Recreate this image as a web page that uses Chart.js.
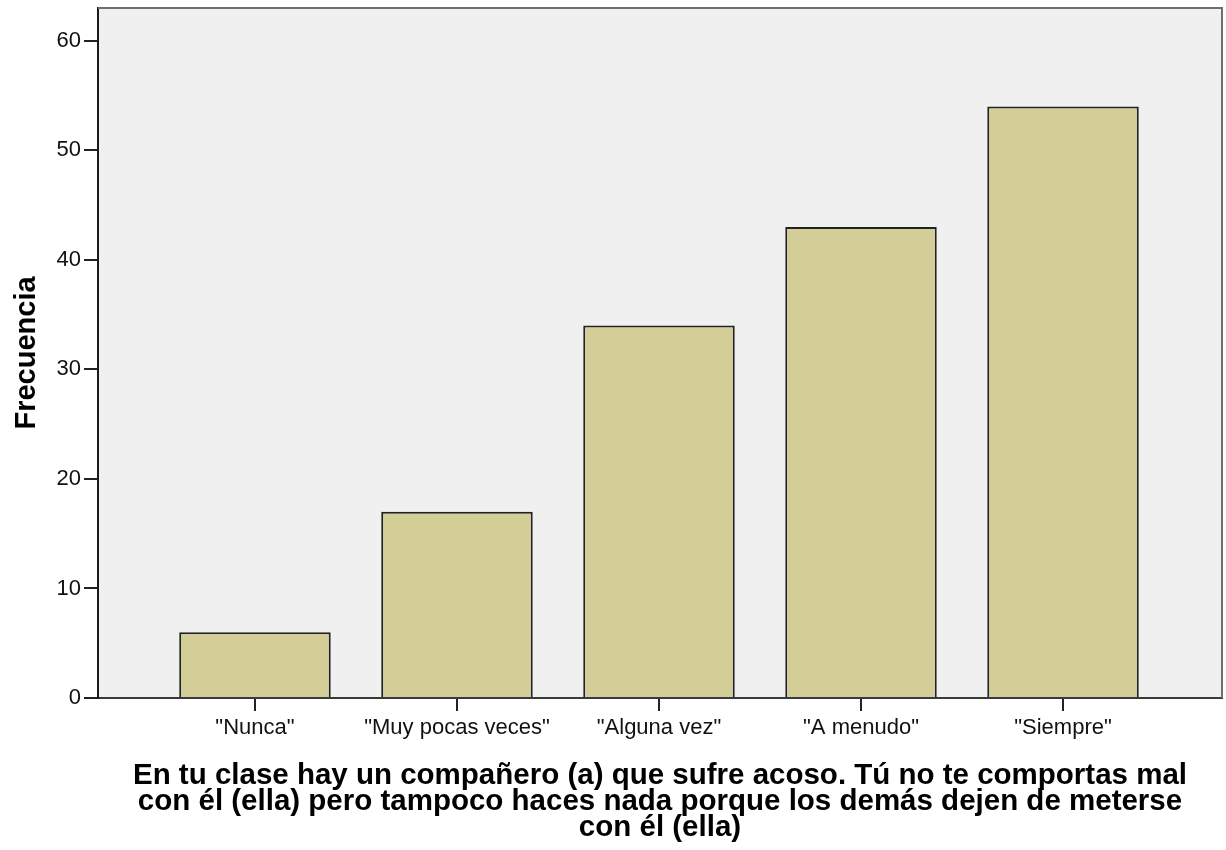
<!DOCTYPE html>
<html>
<head>
<meta charset="utf-8">
<script src="https://cdn.jsdelivr.net/npm/chart.js@4"></script>
<style>
  html, body { margin: 0; padding: 0; background: #fff; }
  #wrap { width: 1226px; height: 850px; }
</style>
</head>
<body>
<div id="wrap"><canvas id="chart1" width="1226" height="850"></canvas></div>
<script>
// Frecuencia por respuesta
const categories = ['"Nunca"', '"Muy pocas veces"', '"Alguna vez"', '"A menudo"', '"Siempre"'];
const frecuencias = [6, 17, 34, 43, 54];
const yTicks = [0, 10, 20, 30, 40, 50, 60];
const xTitle = [
  'En tu clase hay un compañero (a) que sufre acoso. Tú no te comportas mal',
  'con él (ella) pero tampoco haces nada porque los demás dejen de meterse',
  'con él (ella)'
];

const FONT = '"Liberation Sans", Arial, sans-serif';

// fondo gris y marco del área del gráfico
const plotFrame = {
  id: 'plotFrame',
  beforeDraw(chart) {
    const { ctx, chartArea: a } = chart;
    ctx.save();
    ctx.fillStyle = '#F0F0F0';
    ctx.fillRect(a.left, a.top, a.right - a.left, a.bottom - a.top);
    ctx.restore();
  },
  afterDraw(chart) {
    const { ctx, chartArea: a } = chart;
    ctx.save();
    ctx.strokeStyle = '#6E6E6E';
    ctx.lineWidth = 2;
    ctx.beginPath();
    ctx.moveTo(a.left, a.top);
    ctx.lineTo(a.right, a.top);
    ctx.lineTo(a.right, a.bottom);
    ctx.stroke();
    ctx.restore();
  }
};

const ctx = document.getElementById('chart1').getContext('2d');
new Chart(ctx, {
  type: 'bar',
  data: {
    datasets: [{
      data: frecuencias.map((v, i) => ({ x: i, y: v })),
      backgroundColor: '#D3CE97',
      borderColor: '#222',
      borderWidth: 2,
      barPercentage: 0.75,
      categoryPercentage: 1
    }]
  },
  options: {
    responsive: false,
    animation: false,
    layout: { padding: { top: 8, right: 4, bottom: 0, left: 0 } },
    plugins: { legend: { display: false }, tooltip: { enabled: false } },
    scales: {
      x: {
        type: 'linear',
        offset: false,
        min: -0.777,
        max: 4.787,
        afterBuildTicks: s => { s.ticks = categories.map((c, i) => ({ value: i })); },
        afterFit: s => { s.height = 152; s.paddingLeft = 0; s.paddingRight = 0; },
        grid: { offset: false, drawOnChartArea: false, drawTicks: true, tickLength: 13, tickColor: '#222', lineWidth: 2 },
        border: { display: true, color: '#3A3A3A', width: 2 },
        ticks: {
          autoSkip: false,
          maxRotation: 0,
          padding: 4,
          color: '#111',
          font: { family: FONT, size: 22 },
          callback: v => categories[v]
        },
        title: {
          display: true,
          text: xTitle,
          color: '#000',
          font: { family: FONT, size: 29.5, weight: 'bold', lineHeight: '26px' },
          padding: { top: 0, bottom: 9 }
        }
      },
      y: {
        min: 0,
        max: 63,
        afterBuildTicks: s => { s.ticks = yTicks.map(v => ({ value: v })); },
        afterFit: s => { s.width = 98; s.paddingTop = 0; s.paddingBottom = 0; },
        grid: { drawOnChartArea: false, drawTicks: true, tickLength: 14, tickColor: '#222', lineWidth: 2 },
        border: { display: true, color: '#1A1A1A', width: 2 },
        ticks: {
          padding: 3,
          color: '#111',
          font: { family: FONT, size: 22 }
        },
        title: {
          display: true,
          text: 'Frecuencia',
          color: '#000',
          font: { family: FONT, size: 29, weight: 'bold' },
          padding: { top: 10, bottom: 0 }
        }
      }
    }
  },
  plugins: [plotFrame]
});
</script>
</body>
</html>
